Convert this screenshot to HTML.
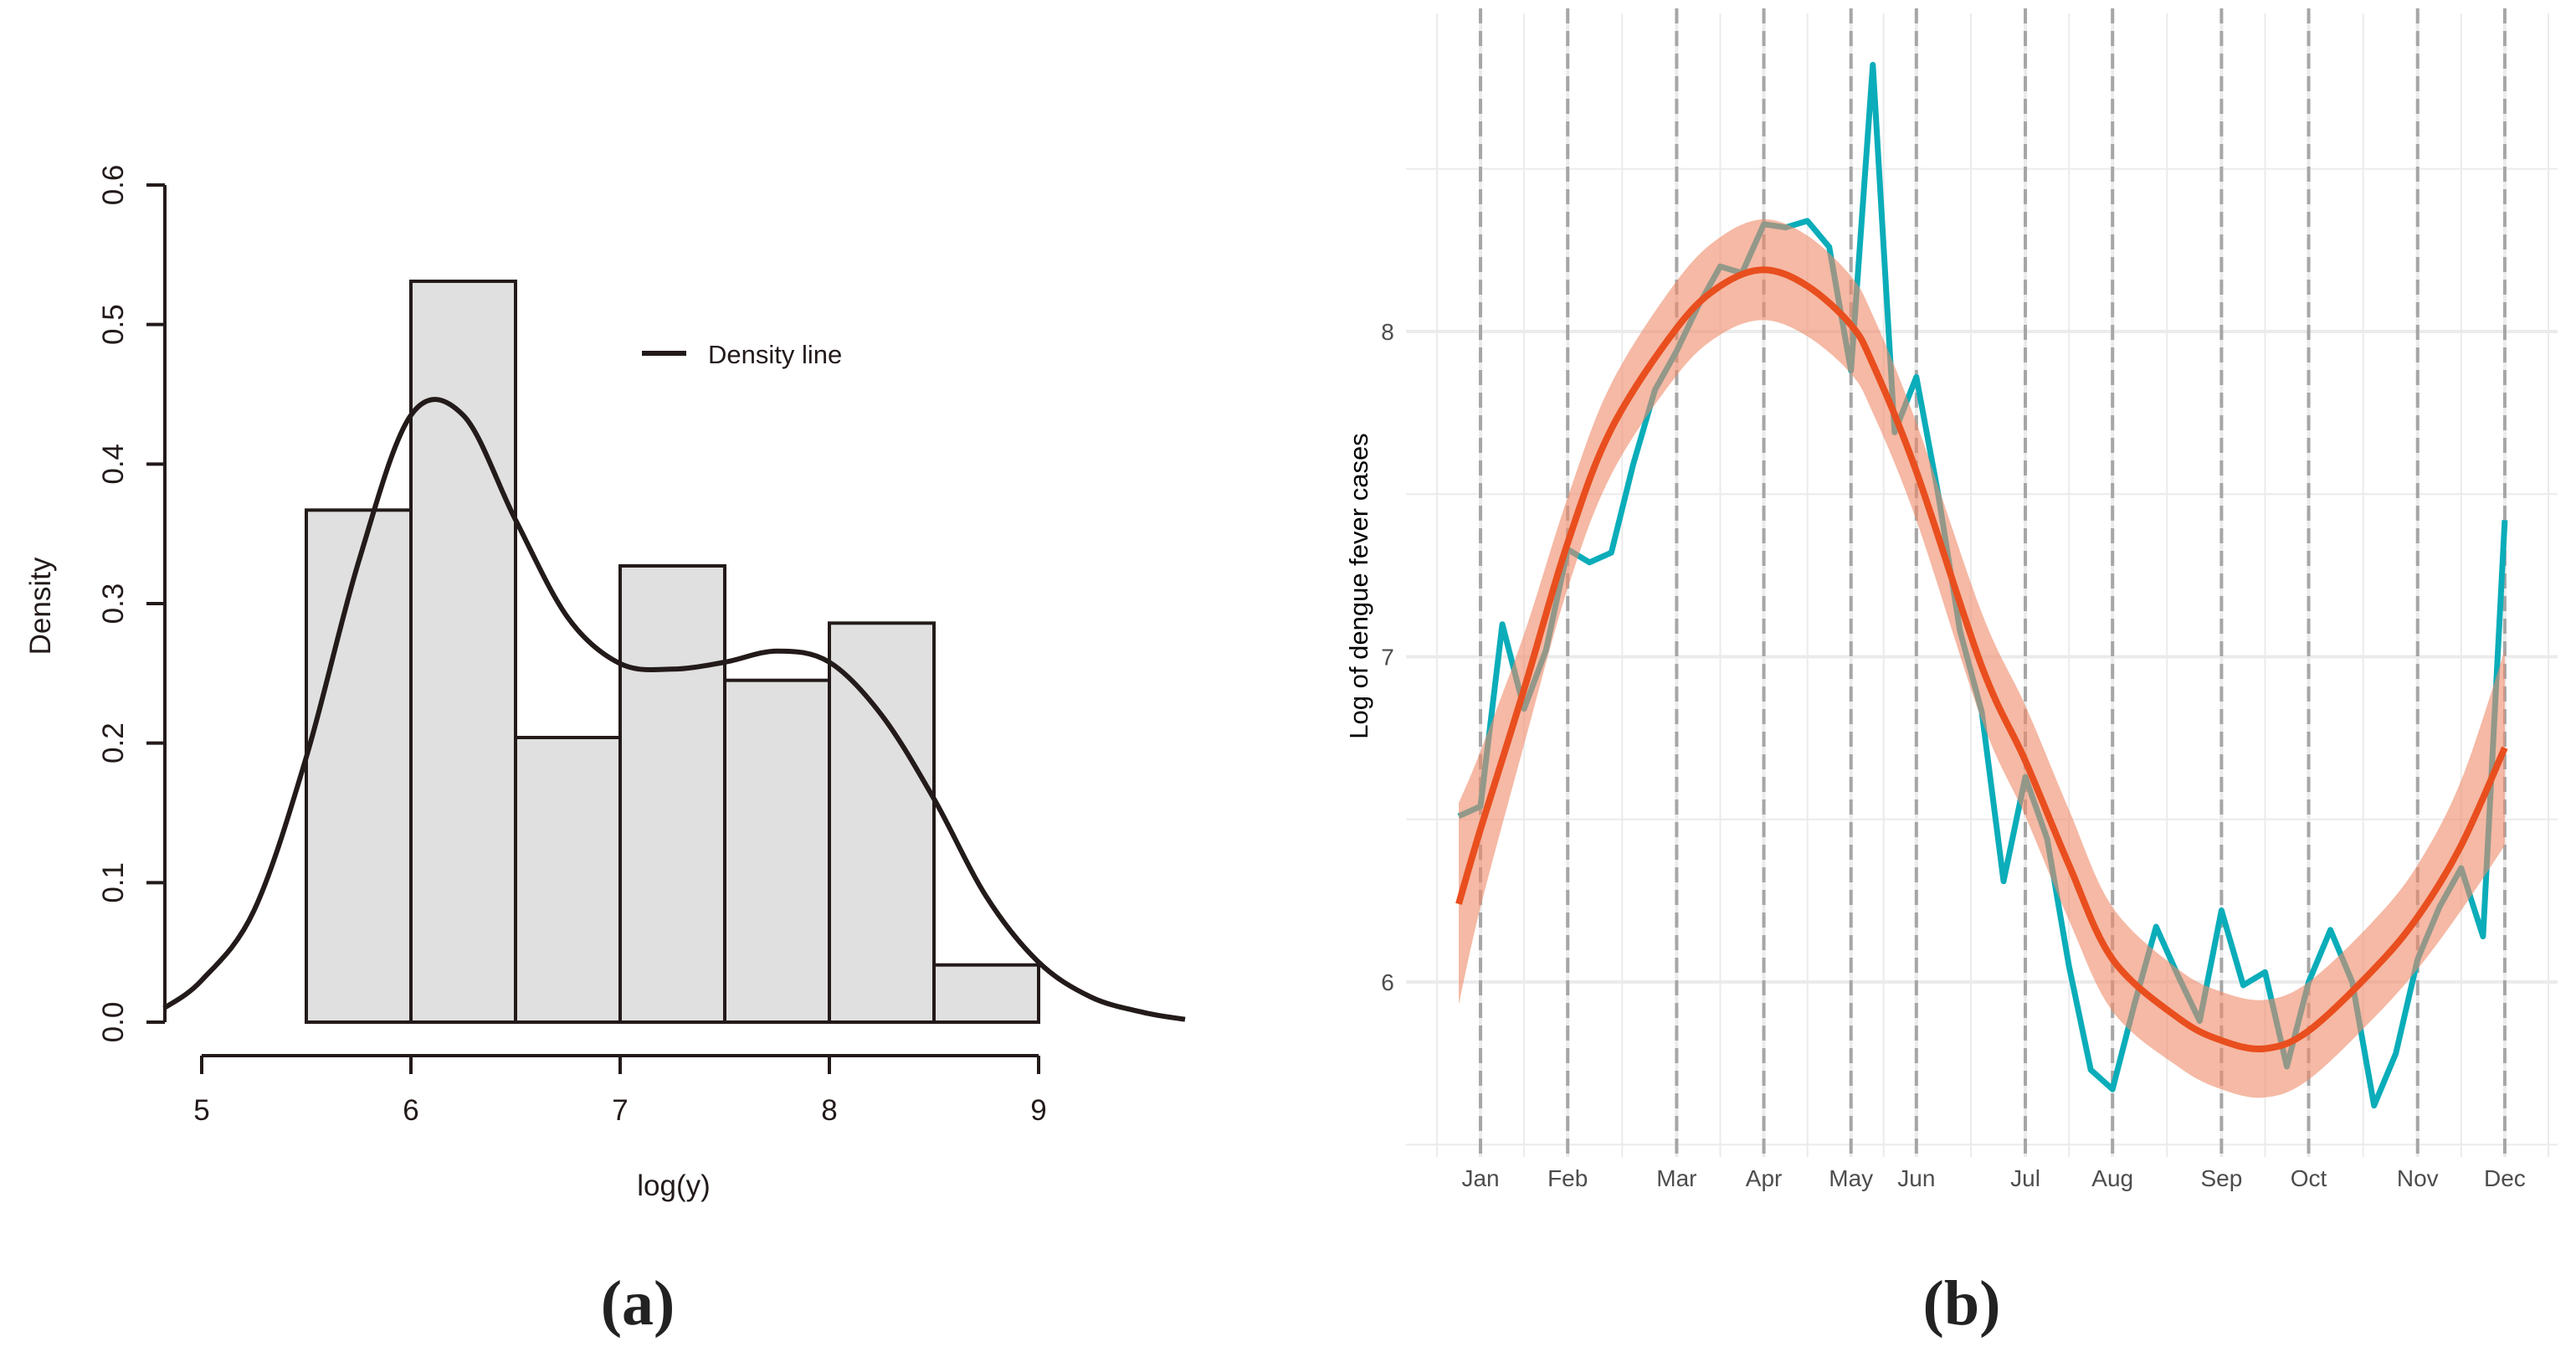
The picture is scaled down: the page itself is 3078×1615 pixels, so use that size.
<!DOCTYPE html>
<html><head><meta charset="utf-8"><style>
html,body{margin:0;padding:0;background:#fff;}
svg{display:block;}
</style></head><body>
<svg id="fig" width="3078" height="1615" viewBox="0 0 3078 1615" xmlns="http://www.w3.org/2000/svg">
<g id="pa"></g>
<g id="pb"></g>
<text x="762" y="1582" text-anchor="middle" font-family="Liberation Serif, serif" font-weight="bold" font-size="76" fill="#222">(a)</text>
<text x="2344" y="1582" text-anchor="middle" font-family="Liberation Serif, serif" font-weight="bold" font-size="76" fill="#222">(b)</text>
</svg>
<script>
// ---------- Panel A data ----------
const binEdges = [5.5,6,6.5,7,7.5,8,8.5,9];
const binDensity = [0.367,0.531,0.204,0.327,0.245,0.286,0.041];
const densX = [4.82,5.0,5.25,5.5,5.75,6.0,6.25,6.5,6.75,7.0,7.25,7.5,7.75,8.0,8.25,8.5,8.75,9.0,9.25,9.5,9.7];
const densY = [0.01,0.03,0.08,0.19,0.33,0.435,0.435,0.36,0.29,0.257,0.253,0.258,0.266,0.258,0.22,0.16,0.09,0.043,0.018,0.007,0.002];
const xTicksA = [5,6,7,8,9];
const yTicksA = [0,0.1,0.2,0.3,0.4,0.5,0.6];
const yTickLabelsA = ["0.0","0.1","0.2","0.3","0.4","0.5","0.6"];

// ---------- Panel B data ----------
const observed = [6.51,6.54,7.10,6.84,7.02,7.33,7.29,7.32,7.59,7.82,7.94,8.08,8.20,8.18,8.33,8.32,8.34,8.26,7.88,8.82,7.69,7.86,7.50,7.08,6.83,6.31,6.63,6.44,6.05,5.73,5.67,5.93,6.17,6.02,5.88,6.22,5.99,6.03,5.74,6.00,6.16,6.00,5.62,5.78,6.07,6.23,6.35,6.14,7.42];
const fitWeeks = [0,1,3,5,7,10,12,14,16,18,19,21,24,26,28,30,33,35,37,39,42,44,46,48];
const fitValues = [6.24,6.47,6.90,7.35,7.70,8.01,8.14,8.19,8.14,8.02,7.90,7.57,6.97,6.68,6.36,6.07,5.89,5.82,5.795,5.85,6.04,6.20,6.42,6.72];
const fitHalfWidth = [0.31,0.24,0.17,0.14,0.14,0.145,0.15,0.155,0.155,0.15,0.15,0.15,0.165,0.17,0.17,0.16,0.15,0.15,0.15,0.15,0.15,0.16,0.2,0.30];
const monthNames = ["Jan","Feb","Mar","Apr","May","Jun","Jul","Aug","Sep","Oct","Nov","Dec"];
const monthWeeks = [1,5,10,14,18,21,26,30,35,39,44,48];
const yMajorB = [6,7,8];
const yMinorB = [5.5,6.5,7.5,8.5];

const NS = "http://www.w3.org/2000/svg";
function mk(parent, tag, attrs){
  const e = document.createElementNS(NS, tag);
  for (const k in attrs) e.setAttribute(k, attrs[k]);
  parent.appendChild(e);
  return e;
}
function smoothPath(pts, move){
  let d = (move===false?"L":"M") + pts[0][0].toFixed(1)+","+pts[0][1].toFixed(1);
  for (let i=0;i<pts.length-1;i++){
    const p0=pts[Math.max(0,i-1)], p1=pts[i], p2=pts[i+1], p3=pts[Math.min(pts.length-1,i+2)];
    const c1=[p1[0]+(p2[0]-p0[0])/6, p1[1]+(p2[1]-p0[1])/6];
    const c2=[p2[0]-(p3[0]-p1[0])/6, p2[1]-(p3[1]-p1[1])/6];
    d+=" C"+c1[0].toFixed(1)+","+c1[1].toFixed(1)+" "+c2[0].toFixed(1)+","+c2[1].toFixed(1)+" "+p2[0].toFixed(1)+","+p2[1].toFixed(1);
  }
  return d;
}

// ---------- Panel A ----------
(function(){
  const g = document.getElementById('pa');
  const xA = v => 241 + (v-5)*250;
  const yA = v => 1221 - v*1666.7;
  const font = "Liberation Sans, Arial, sans-serif";
  for (let i=0;i<binDensity.length;i++){
    const r = mk(g,'rect',{x:xA(binEdges[i]), y:yA(binDensity[i]), width:xA(binEdges[i+1])-xA(binEdges[i]), height:yA(0)-yA(binDensity[i]), fill:'#dfe0df', stroke:'#231a1a','stroke-width':4});
    
    
  }
  const pts = densX.map((x,i)=>[xA(x), yA(densY[i])]);
  const dl = mk(g,'path',{d:smoothPath(pts), fill:'none', stroke:'#231a1a','stroke-width':6,'stroke-linejoin':'round'});
  
  
  const ya = mk(g,'line',{x1:197,x2:197,y1:yA(0.6),y2:yA(0),stroke:'#231a1a','stroke-width':4});
  
  
  yTicksA.forEach((v,i)=>{
    mk(g,'line',{x1:175,x2:197,y1:yA(v),y2:yA(v),stroke:'#231a1a','stroke-width':4});
    const t = mk(g,'text',{x:0,y:0,transform:`translate(147,${yA(v)}) rotate(-90)`,'text-anchor':'middle','font-family':font,'font-size':35,fill:'#231a1a'});
    t.textContent = yTickLabelsA[i];
    
    
  });
  const xa = mk(g,'line',{x1:xA(5),x2:xA(9),y1:1261,y2:1261,stroke:'#231a1a','stroke-width':4});
  
  
  xTicksA.forEach(v=>{
    mk(g,'line',{x1:xA(v),x2:xA(v),y1:1261,y2:1283,stroke:'#231a1a','stroke-width':4});
    const t = mk(g,'text',{x:xA(v),y:1338,'text-anchor':'middle','font-family':font,'font-size':35,fill:'#231a1a'});
    t.textContent = v;
    
    
  });
  const xt = mk(g,'text',{x:805,y:1428,'text-anchor':'middle','font-family':font,'font-size':35,fill:'#231a1a'});
  xt.textContent='log(y)';
  
  
  const yt = mk(g,'text',{x:0,y:0,transform:'translate(60,724) rotate(-90)','text-anchor':'middle','font-family':font,'font-size':35,fill:'#231a1a'});
  yt.textContent='Density';
  
  
  const lg = mk(g,'g',{});
  
  
  mk(lg,'line',{x1:767,x2:820,y1:422,y2:422,stroke:'#231a1a','stroke-width':6});
  const lt = mk(lg,'text',{x:846,y:434,'font-family':font,'font-size':31,fill:'#231a1a'});
  lt.textContent='Density line';
})();

// ---------- Panel B ----------
(function(){
  const g = document.getElementById('pb');
  const xB = w => 1743 + w*26.04;
  const yB = v => 1173 - (v-6)*388.5;
  const font = "Liberation Sans, Arial, sans-serif";
  const top = 16, bottom = 1382, left = 1680, right = 3056;
  yMinorB.forEach(v=>mk(g,'line',{x1:left,x2:right,y1:yB(v),y2:yB(v),stroke:'#ebebeb','stroke-width':2}));
  yMajorB.forEach(v=>mk(g,'line',{x1:left,x2:right,y1:yB(v),y2:yB(v),stroke:'#ebebeb','stroke-width':4}));
  const minorW = [-1];
  for (let i=0;i<monthWeeks.length-1;i++) minorW.push((monthWeeks[i]+monthWeeks[i+1])/2);
  minorW.push(50);
  minorW.forEach(w=>mk(g,'line',{x1:xB(w),x2:xB(w),y1:top,y2:bottom,stroke:'#ebebeb','stroke-width':2}));
  monthWeeks.forEach(w=>mk(g,'line',{x1:xB(w),x2:xB(w),y1:top,y2:bottom,stroke:'#ebebeb','stroke-width':4}));
  monthWeeks.forEach(w=>{
    const l = mk(g,'line',{x1:xB(w),x2:xB(w),y1:top-6,y2:bottom,stroke:'#a6a6a6','stroke-width':4,'stroke-dasharray':'18 9'});
    
    
  });
  const obsPts = observed.map((v,i)=>`${xB(i).toFixed(1)},${yB(v).toFixed(1)}`).join(' ');
  const ob = mk(g,'polyline',{points:obsPts,fill:'none',stroke:'#0aadb9','stroke-width':7,'stroke-linejoin':'round'});
  
  
  const upper = fitWeeks.map((w,i)=>[xB(w), yB(fitValues[i]+fitHalfWidth[i])]);
  const lower = fitWeeks.map((w,i)=>[xB(w), yB(fitValues[i]-fitHalfWidth[i])]).reverse();
  const rib = mk(g,'path',{d:smoothPath(upper)+" "+smoothPath(lower,false)+" Z",fill:'rgb(238,138,105)','fill-opacity':0.6,stroke:'none'});
  
  
  const fit = mk(g,'path',{d:smoothPath(fitWeeks.map((w,i)=>[xB(w), yB(fitValues[i])])),fill:'none',stroke:'#e94e1e','stroke-width':8});
  
  
  monthWeeks.forEach((w,i)=>{
    const t = mk(g,'text',{x:xB(w),y:1417,'text-anchor':'middle','font-family':font,'font-size':28,fill:'#4d4d4d'});
    t.textContent = monthNames[i];
    
    
  });
  yMajorB.forEach(v=>{
    const t = mk(g,'text',{x:1658,y:yB(v)+10,'text-anchor':'middle','font-family':font,'font-size':28,fill:'#4d4d4d'});
    t.textContent = v;
    
    
  });
  const yt = mk(g,'text',{x:0,y:0,transform:'translate(1634,700) rotate(-90)','text-anchor':'middle','font-family':font,'font-size':31,fill:'#000'});
  yt.textContent='Log of dengue fever cases';
  
  
})();
</script>
</body></html>
